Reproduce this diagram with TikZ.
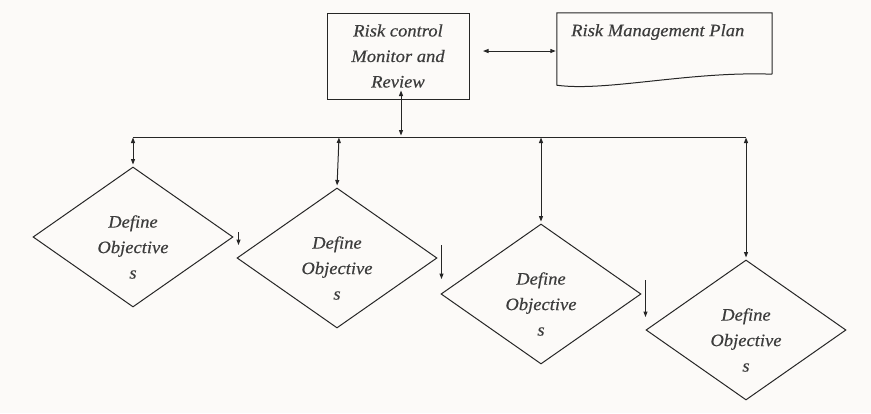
\documentclass[tikz,border=0pt]{standalone}
\usepackage{fontspec}
\setmainfont{Liberation Serif}[FakeStretch=1.06, FakeBold=0.4]
\usetikzlibrary{arrows.meta,shapes.geometric}

\definecolor{paper}{RGB}{252,250,248}
\definecolor{ink}{RGB}{38,38,38}

\tikzset{
  conn/.style={draw=ink, line width=1pt},
  tip/.tip={Triangle[length=5.5pt,width=4pt]},
  both/.style={conn, tip-tip},
  down/.style={conn, -tip},
  txt/.style={inner sep=0pt, text=ink!90, font=\fontsize{17.5}{25.5}\selectfont\itshape, align=center},
  boxnode/.style={txt, draw=ink, line width=1pt, minimum width=142pt, minimum height=86pt},
  decision/.style={diamond, draw=ink, line width=1pt, inner sep=0pt, minimum width=200pt, minimum height=140pt},
}

\begin{document}
\begin{tikzpicture}[x=1pt,y=-1pt]
  % page
  \fill[paper] (0,0) rectangle (871,413);
  \useasboundingbox (0,0) rectangle (871,413);

  % top row: control box and plan document
  \node[boxnode] (rc) at (398,56) {Risk control\\Monitor and\\Review};
  \node[inner sep=0pt, minimum width=215pt, minimum height=61pt] (rmp) at (664.5,43.5) {};
  \draw[conn] (rmp.south east) -- (rmp.north east) -- (rmp.north west)
     -- ([yshift=-11pt]rmp.south west)
     .. controls (605,92) and (690,71) .. (rmp.south east);
  \node[txt, anchor=west] (rmpt) at (571,32) {Risk Management Plan};

  % four decision diamonds
  \node[decision] (d1) at (133,237) {};
  \node[decision] (d2) at (337,258) {};
  \node[decision] (d3) at (541,294) {};
  \node[decision] (d4) at (746,330) {};
  \foreach \d in {d1,d2,d3,d4}
    \node[txt] (\d t) at ([yshift=-10pt]\d.center) {Define\\Objective\\s};

  % distribution bus
  \coordinate (bus0) at (401,137);
  \coordinate (busL) at (133,137);
  \coordinate (busR) at (746,137);
  \draw[conn] (busL) -- (busR);

  % connectors
  \draw[both, shorten >=1pt] ([yshift=5pt]rc.east -| 483,0) -- ([yshift=5pt]rc.east -| rmp.west);
  \draw[both, shorten >=1.5pt] ([xshift=3pt,yshift=9pt]rc.south) -- (bus0);
  \draw[both, shorten <=0.5pt, shorten >=2pt] (busL) -- (d1.north);
  \draw[both, shorten <=0.5pt, shorten >=2pt] ([xshift=2pt]d2.north |- busL) -- (d2.north);
  \draw[both, shorten <=0.5pt, shorten >=2pt] (d3.north |- busL) -- (d3.north);
  \draw[both, shorten <=0.5pt, shorten >=2pt] (busR) -- (d4.north);

  % small step arrows beside the diamonds
  \draw[down] ([xshift=5pt,yshift=5pt]d1.east) -- ([xshift=5pt,yshift=-8pt]d1.east);
  \draw[down] ([xshift=4pt,yshift=13pt]d2.east) -- ([xshift=4pt,yshift=-21pt]d2.east);
  \draw[down] ([xshift=4pt,yshift=14pt]d3.east) -- ([xshift=4pt,yshift=-23pt]d3.east);
\end{tikzpicture}
\end{document}
